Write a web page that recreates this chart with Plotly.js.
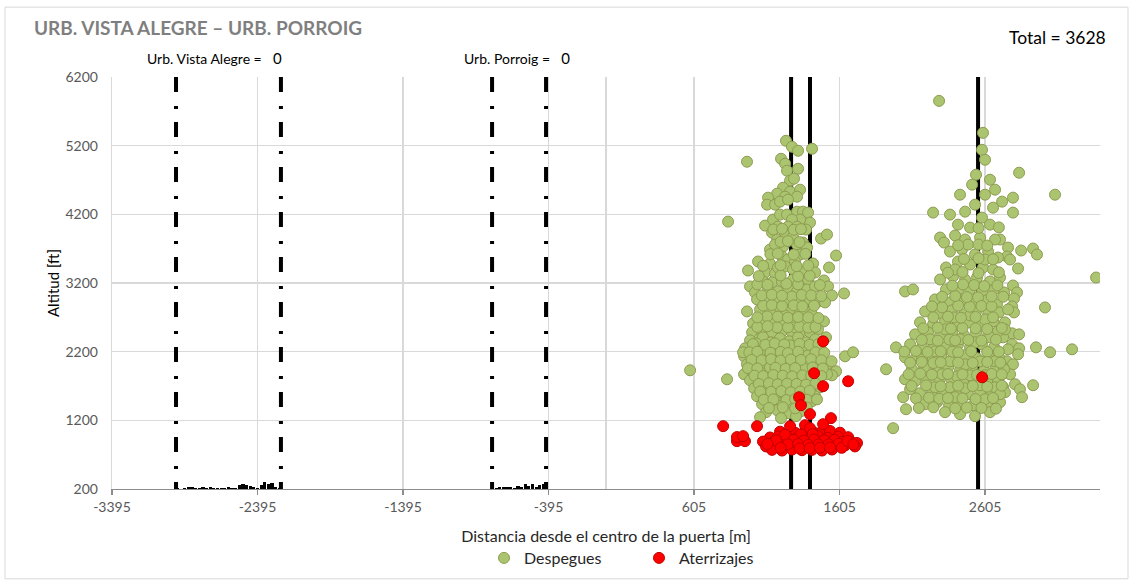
<!DOCTYPE html>
<html>
<head>
<meta charset="utf-8">
<script src="https://cdn.plot.ly/plotly-3.0.1.min.js"></script>
<style>
  html, body { margin: 0; padding: 0; background: #ffffff; }
  #chart { width: 1134px; height: 586px; }
</style>
</head>
<body>
<div id="chart"></div>
<script>
// ---------------- DATA ----------------
const chartTitle = "URB. VISTA ALEGRE \u2013 URB. PORROIG";
const totalLabel = "Total = 3628";
const xTitle = "Distancia desde el centro de la puerta [m]";
const yTitle = "Altitud [ft]";
const seriesNames = ["Despegues", "Aterrizajes"];

const xRange = [-3395, 3395];
const yRange = [200, 6200];
const xTickVals = [-3395, -2395, -1395, -395, 605, 1605, 2605];
const xTickText = ["-3395", "-2395", "-1395", "-395", "605", "1605", "2605"];
const yTickVals = [200, 1200, 2200, 3200, 4200, 5200, 6200];

// town labels
const townNames = ["Urb. Vista Alegre", "Urb. Porroig"];
const townCounts = [0, 0];
const townLabelX = [-3168, -990];

// dash-dot vertical lines (town limits) and solid vertical lines
const townLinesX = [-2955, -2234, -783, -412];
const solidLinesX = [1272, 1402, 2557];

// small black bars at ground level (height above 200 ft)
const groundBarsX = [-2945,-2920,-2895,-2870,-2845,-2820,-2795,-2770,-2745,-2720,-2695,-2670,-2645,-2620,-2595,-2570,-2545,-2520,-2495,-2470,-2445,-2420,-2395,-2370,-2345,-2320,-2295,-2270,-2245,
  -780,-755,-730,-705,-680,-655,-630,-605,-580,-555,-530,-505,-480,-455,-430,-410];
const groundBarsH = [15,0,10,30,35,10,20,22,18,25,20,15,10,20,22,15,20,55,70,65,45,25,20,60,100,70,90,30,20,
  15,10,25,30,25,30,20,45,35,70,40,80,30,60,75,25];

// Despegues (take-offs)
const despeguesX = [
  1237,1278,1320,1416,969,1203,1231,1244,1320,1265,
  1292,1217,1265,1334,1176,1114,1231,1313,1107,1162,
  1196,1251,839,1093,1148,1196,1244,1313,1354,1389,
  1402,1334,1278,1182,1251,1313,1375,1141,1231,1176,
  1285,1478,1519,1217,1313,1354,1127,1162,1382,1581,
  1210,1251,1334,1423,1533,1127,976,1093,1162,1231,
  1285,1354,1437,1079,1141,1210,1285,1347,1389,1498,
  990,1024,1114,1182,1251,1313,1382,1437,1526,1553,
  1636,1100,1162,1237,1320,1402,1457,1505,1059,1127,
  1196,1265,1334,1368,1498,1011,1079,1148,1217,1285,
  1354,1423,1004,1073,1141,1210,1278,1347,1402,1045,
  1299,1182,1038,1278,1416,1231,1107,969,1457,1299,1176,1052,
  990,1079,1134,1196,1258,1320,1375,1437,1512,
  956,1024,1100,1169,1231,1299,1361,1423,1485,
  949,1004,1066,1134,1203,1272,1334,1402,1464,1643,1698,
  969,1038,1100,1169,1237,1306,1375,1437,1519,1581,
  578,949,1004,1073,1134,1203,1265,1334,1396,1464,1553,1519,
  832,990,1052,1114,1182,1251,1313,1375,1444,
  1018,1079,1148,1210,1278,1340,1409,1471,
  1038,1100,1169,1237,1306,1368,1437,
  1073,1141,1210,1278,1347,1416,
  1100,1176,1258,1340,1059,1203,1306,
  1031,1162,1285,1354,1100,1231,1127,1265,1389,
  1038,1416,1196,1299,1059,1450,1162,1334,942,
  2839,3086,2797,2722,2797,2708,2763,2756,2853,2935,
  2962,2777,2832,3368,2797,2825,2736,2804,2791,2804,
  3017,2742,2791,2839,2729,2791,2839,2832,2955,3052,
  3203,2756,2797,2729,2722,2729,2935,
  2289,2591,2584,2605,2543,2639,2516,2674,2433,2605,
  2536,2660,2468,2248,2364,2584,2419,2502,2639,2296,
  2323,2399,2468,2571,2674,2364,2447,2536,2626,2694,
  2419,2502,2591,2660,2337,2296,2385,2468,2550,2639,
  2708,2055,2110,2337,2419,2502,2584,2667,2261,2364,
  2447,2529,2612,2687,2193,2296,2378,2461,2543,2626,
  2701,2158,2248,2330,2412,2495,2577,2660,2124,2213,
  2296,2378,2461,2543,2626,2694,1993,2090,2172,2254,
  2337,2419,2502,2584,2667,1925,2055,2138,2220,2303,
  2385,2468,2550,2632,2701,2103,2186,2268,2351,2433,
  2516,2598,2681,2124,2206,2289,2371,2454,2536,2619,
  2694,2158,2241,2323,2406,2488,2571,2653,2742,2193,
  2275,2358,2440,2523,2619,2708,2062,2042,1973,2090,
  2330,2433,2536,2639,2811,2845,2859,2777,
  2227,2330,2433,2536,2639,2261,2364,2468,2571,2674,
  2310,2412,2502,2605,2261,2364,2468,2571,2674,2399,
  2605,2708,2392,2502,2605,2310,2454,2557,2399,2605,
  2488,2172,2055,2763,2742,2763,2736
];
const despeguesY = [
  5271,5184,5126,5155,4966,5009,4937,4835,4864,4690,
  4719,4588,4530,4559,4501,4443,4457,4457,4341,4341,
  4385,4414,4094,4036,4123,4196,4196,4239,4239,4225,
  4080,4123,4123,4021,4021,4021,3978,3934,3905,3833,
  3876,3847,3905,3731,3760,3789,3687,3760,3716,3600,
  3585,3542,3615,3484,3426,3484,3382,3353,3338,3440,
  3397,3368,3353,3222,3208,3222,3251,3222,3251,3237,
  3150,3062,3106,3077,3135,3077,3106,3150,3150,3019,
  3048,2932,2932,2961,2932,2961,2932,2917,2815,2786,
  2845,2815,2815,2786,2641,2612,2627,2641,2627,2670,
  2670,2612,2481,2481,2481,2496,2481,2496,2481,3513,
  3513,3426,2961,3004,2743,2728,2714,2786,2525,2554,2554,2380,
  2365,2409,2336,2394,2351,2409,2336,2380,2409,
  2249,2292,2234,2278,2220,2263,2234,2278,2205,
  2133,2162,2118,2162,2133,2176,2118,2147,2133,2133,2191,
  2016,2060,2002,2045,2002,2045,2002,2031,2016,1915,
  1929,1871,1915,1886,1929,1900,1944,1900,1929,1886,1856,1871,
  1798,1784,1813,1769,1798,1784,1827,1769,1798,
  1667,1711,1653,1696,1667,1696,1653,1682,
  1551,1580,1537,1580,1551,1580,1551,
  1435,1464,1420,1449,1435,1479,
  1319,1348,1304,1333,1246,1232,1261,
  2321,2205,2089,1958,1842,1740,1973,2292,2147,
  1944,1726,1609,1871,2205,1915,1696,1508,2191,
  4806,4486,4443,4385,4225,3833,3716,3585,3673,3702,
  3615,3542,3411,3280,3164,3062,3062,2975,2859,2772,
  2844,2627,2467,2452,2409,2307,2249,2162,2263,2191,
  2234,2060,2016,1973,1871,1682,1711,
  5852,5387,5140,4995,4777,4704,4632,4559,4486,4486,
  4341,4297,4239,4225,4196,4152,4050,4007,4050,3862,
  3789,3891,3833,3862,3833,3658,3687,3615,3658,3571,
  3513,3469,3426,3397,3426,3251,3295,3251,3280,3222,
  3280,3077,3106,3106,3077,3106,3062,3106,2961,2917,
  2961,2903,2946,2888,2786,2757,2801,2743,2786,2743,
  2772,2627,2598,2641,2583,2627,2598,2641,2452,2481,
  2438,2481,2438,2481,2438,2496,2263,2307,2263,2307,
  2263,2307,2263,2307,2263,1944,2118,2147,2104,2147,
  2104,2147,2104,2147,2118,1944,1973,1929,1973,1929,
  1973,1929,1973,1769,1798,1755,1798,1755,1798,1755,
  1798,1595,1624,1580,1624,1580,1624,1580,1609,1435,
  1464,1420,1449,1420,1449,1464,1362,1537,1086,1653,
  1319,1290,1261,1319,1726,1653,1537,1871,
  2380,2525,2380,2336,2409,2205,2060,2016,2060,2060,
  1871,1842,1856,1856,1682,1682,1667,1711,1682,1537,
  1508,1580,2699,2728,2670,2845,3179,2990,3397,3542,
  3760,2089,1798,2234,2525,2815,1944
];

// Despegues, densest cores of both groups
const despeguesCoreX = [
  1010,1095,1160,1225,1330,1400,1460,
  985,1040,1130,1200,1250,1320,1440,1500,
  1000,1070,1135,1200,1270,1340,1410,1480,1550,
  975,1040,1165,1235,1300,1420,1490,
  1020,1080,1150,1215,1280,1350,1410,1480,
  1050,1120,1180,1245,1310,1375,1440,
  1060,1135,1205,1270,1335,1400,
  1085,1150,1240,1300,1380,1450,
  1120,1215,1300,1380,
  1040,1110,1250,1330,1390,1440,
  1040,1180,1250,1320,1390,1460,
  1080,1140,1210,1290,1350,1430,
  1070,1140,1210,1345,1410,1480,
  1040,1110,1240,1320,1470,
  1050,1200,1320,1400,
  1080,1200,1310,1390,
  1130,1180,1290,1370,
  1200,1250,1330,
  1150,1210,1290,1340,
  2170,2280,2360,2400,2490,2580,2680,
  2050,2130,2210,2300,2380,2420,2510,2620,2700,
  2090,2170,2250,2300,2420,2520,2620,2710,
  2080,2160,2240,2350,2450,2550,2650,2720,
  2100,2200,2300,2420,2520,2620,2720,
  2130,2220,2290,2350,2450,2540,2660,
  2150,2250,2400,2480,2580,2680,
  2180,2280,2370,2450,2540,2620,2720,
  2250,2350,2440,2540,2660,
  2240,2420,2500,2580,2650,
  2310,2400,2480,2650,2730,
  2380,2530,2600,2690,
  2350,2450,2560,2700,
  2460,2560,2660,
  2420,2560,2620,
  2560,2700
];
const despeguesCoreY = [
  2310,2300,2320,2305,2315,2300,2310,
  2190,2200,2185,2195,2180,2200,2190,2185,
  2080,2075,2090,2070,2085,2080,2090,2075,2060,
  1960,1955,1965,1950,1960,1970,1955,
  1850,1845,1860,1850,1840,1855,1850,1845,
  1730,1740,1725,1735,1730,1720,1735,
  1620,1615,1625,1610,1620,1630,
  1500,1505,1495,1510,1500,1505,
  1380,1390,1375,1385,
  2560,2570,2555,2565,2550,2560,
  2700,2710,2695,2705,2700,2690,
  2870,2880,2865,2875,2860,2870,
  3020,3030,3015,3025,3020,3010,
  3180,3175,3190,3180,3170,
  3300,3310,3295,3305,
  3450,3460,3445,3455,
  3620,3630,3615,3625,
  3800,3810,3795,
  3980,3990,3975,3985,
  2370,2360,2375,2365,2370,2360,2375,
  2200,2210,2195,2205,2200,2190,2205,2195,2200,
  2040,2050,2035,2045,2040,2035,2050,2040,
  1870,1880,1865,1875,1870,1860,1875,1870,
  1700,1710,1695,1705,1700,1690,1705,
  1520,1530,1515,1525,1520,1510,1525,
  1380,1390,1375,1385,1380,1370,
  2540,2550,2535,2545,2540,2530,2545,
  2700,2710,2695,2705,2700,
  2860,2870,2855,2865,2860,
  3000,3010,2995,3005,3000,
  3160,3170,3155,3165,
  3350,3360,3345,3355,
  3550,3560,3545,
  3750,3760,3745,
  4000,4010
];

// Aterrizajes (landings)
const aterrizajesX = [
  1492,1430,1492,1664,1327,1340,1402,1546,805,1038,
  900,955,900,942,2585,1196,1299,1368,1437,1485,
  1540,1608,1127,1182,1251,1320,1389,1457,1526,1595,
  1664,1079,1141,1210,1265,1334,1402,1471,1540,1622,
  1691,1725,1100,1162,1231,1299,1368,1437,1505,1574,
  1643,1711,1141,1210,1278,1347,1416,1485,1553,1265,
  1368,1492,1402,1230,1340,1420,1170,1290,1360,1430,
  1500,1570,1250,1320,1390,1460,1530,1600,1200,1330,
  1400,1470,1540,1620,1110,1660,1700
];
const aterrizajesY = [
  2350,1886,1697,1769,1537,1420,1290,1232,1115,1115,
  897,897,956,970,1827,1035,1020,1040,1015,1030,
  1045,1020,950,965,945,960,950,970,945,960,
  955,890,875,895,880,870,890,880,875,890,
  880,870,820,830,815,835,820,830,815,825,
  835,820,770,760,775,765,770,760,775,1115,
  1130,1144,1086,990,995,1000,910,915,905,920,
  910,915,850,855,845,850,850,860,800,790,
  795,800,805,800,855,900,850
];

// ---------------- STYLE ----------------
const FONT = "Lato, 'Liberation Sans', sans-serif";
const L = 112, R = 34, T = 77, B = 96;
const W = 1134, H = 586;
const plotW = W - L - R, plotH = H - T - B;
const px2paperX = p => (p - L) / plotW;
const px2paperY = p => (H - B - p) / plotH;

const traces = [];
townLinesX.forEach(v => traces.push({
  type: "scatter", mode: "lines", x: [v, v], y: [yRange[1], yRange[0]],
  line: { color: "#000000", width: 4, dash: "15px,14px,3px,13px" },
  showlegend: false, hoverinfo: "skip"
}));
solidLinesX.forEach(v => traces.push({
  type: "scatter", mode: "lines", x: [v, v], y: [yRange[1], yRange[0]],
  line: { color: "#000000", width: 4 },
  showlegend: false, hoverinfo: "skip"
}));
traces.push({
  type: "bar", x: groundBarsX, y: groundBarsH, base: yRange[0], width: 22,
  marker: { color: "#000000", line: { width: 0 } }, showlegend: false, hoverinfo: "skip"
});
const greenMarker = { size: 11, color: "#abc46f", line: { color: "#8e9c52", width: 1 } };
traces.push({
  type: "scatter", mode: "markers", name: seriesNames[0], legendgroup: "d",
  x: despeguesX.concat(despeguesCoreX), y: despeguesY.concat(despeguesCoreY),
  marker: greenMarker
});
traces.push({
  type: "scatter", mode: "markers", name: seriesNames[1],
  x: aterrizajesX, y: aterrizajesY,
  marker: { size: 11, color: "#ff0000", line: { color: "#c00000", width: 1 } }
});

const annotations = [
  { xref: "paper", yref: "paper", x: px2paperX(1108), y: px2paperY(37), xanchor: "right", yanchor: "middle",
    text: totalLabel, showarrow: false, font: { family: FONT, size: 17.5, color: "#000000" } }
];
townNames.forEach((n, i) => annotations.push({
  xref: "x", yref: "paper", x: townLabelX[i], y: px2paperY(58), xanchor: "left", yanchor: "middle",
  text: n + " = <span style='font-size:15px'>  " + townCounts[i] + "</span>", showarrow: false,
  font: { family: FONT, size: 14, color: "#000000" }
}));

const layout = {
  width: W, height: H,
  margin: { l: L, r: R, t: T, b: B, pad: 0 },
  paper_bgcolor: "#ffffff", plot_bgcolor: "#ffffff",
  font: { family: FONT, color: "#595959" },
  title: { text: "<b>" + chartTitle + "</b>", xref: "container", yref: "container",
    x: 34 / W, xanchor: "left", y: 1 - 28 / H, yanchor: "middle",
    font: { family: FONT, size: 19, color: "#7f7f7f" } },
  xaxis: {
    range: xRange, tickmode: "array", tickvals: xTickVals, ticktext: xTickText,
    showgrid: true, gridcolor: "#d9d9d9", gridwidth: 1.5,
    zeroline: true, zerolinecolor: "#d9d9d9", zerolinewidth: 1.5,
    showline: true, linecolor: "#8c8c8c", linewidth: 1.3,
    ticks: "outside", ticklen: 5, tickcolor: "#8c8c8c", tickwidth: 1.3,
    tickfont: { family: FONT, size: 14, color: "#595959" },
    title: { text: xTitle, font: { family: FONT, size: 16, color: "#262626" }, standoff: 16 }
  },
  yaxis: {
    range: yRange, tickmode: "array", tickvals: yTickVals,
    showgrid: true, gridcolor: "#d9d9d9", gridwidth: 1.5, zeroline: false,
    showline: true, linecolor: "#d9d9d9", linewidth: 1.3,
    ticks: "", ticklabelstandoff: 10,
    tickfont: { family: FONT, size: 14, color: "#595959" },
    title: { text: yTitle, font: { family: FONT, size: 15, color: "#000000" }, standoff: 2 }
  },
  legend: { orientation: "h", x: px2paperX(484), xanchor: "left", y: px2paperY(558), yanchor: "middle",
    font: { family: FONT, size: 16, color: "#262626" }, itemwidth: 30, entrywidth: 110,
    bgcolor: "rgba(0,0,0,0)" },
  bargap: 0,
  annotations: annotations,
  shapes: [
    { type: "rect", xref: "paper", yref: "paper", x0: px2paperX(5), x1: px2paperX(1128),
      y0: px2paperY(580), y1: px2paperY(7), line: { color: "#d9d9d9", width: 1 }, layer: "below" }
  ],
  showlegend: true
};

Plotly.newPlot("chart", traces, layout, { displayModeBar: false, staticPlot: true });
</script>
</body>
</html>
